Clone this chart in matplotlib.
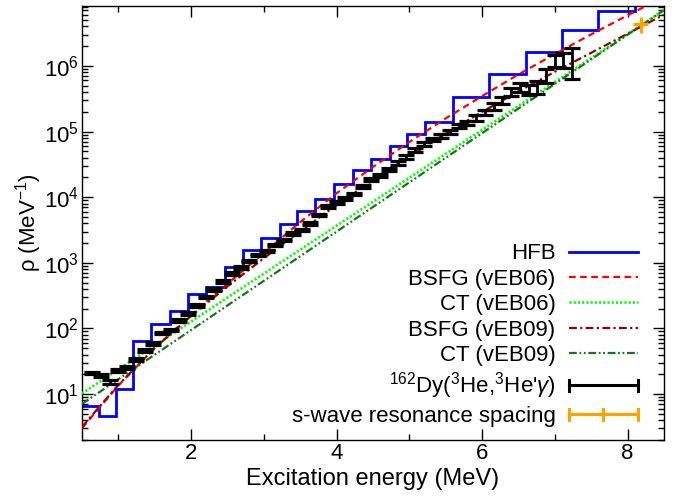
import numpy as np
import matplotlib
matplotlib.use('Agg')
import matplotlib.pyplot as plt
from matplotlib.lines import Line2D
from matplotlib.legend_handler import HandlerBase
from matplotlib.ticker import LogLocator, MultipleLocator, NullFormatter, FixedLocator

plt.rcParams['font.family'] = ['Liberation Sans', 'DejaVu Sans']
plt.rcParams['mathtext.fontset'] = 'custom'
plt.rcParams['mathtext.rm'] = 'Liberation Sans'
plt.rcParams['mathtext.it'] = 'Liberation Sans:italic'
plt.rcParams['mathtext.bf'] = 'Liberation Sans:bold'
plt.rcParams['font.size'] = 16

# ---------------- data ----------------
# HFB staircase (bin edges in MeV, level density per bin)
hfb_edges = [0.5, 0.73, 0.97, 1.2, 1.45, 1.71, 1.96, 2.2, 2.47, 2.71, 2.96, 3.22,
             3.45, 3.7, 3.96, 4.22, 4.48, 4.73, 4.97, 5.22, 5.6, 6.1, 6.6, 7.1,
             7.6, 8.1, 8.6]
hfb_rho = [6.64, 4.62, 11.9, 64.7, 118, 183, 339, 430, 865, 1549, 2393, 3873,
           6095, 9462, 15700, 25640, 38640, 60120, 92900, 138000, 331100, 741300,
           1.622e6, 3.467e6, 6.918e6, 1.413e7]

# model curves
e_model = [0.5, 1.0, 1.5, 2.0, 2.5, 3.0, 3.5, 4.0, 4.5, 5.0, 5.5, 6.0, 6.5, 7.0,
           7.5, 8.0, 8.5]
bsfg_veb06 = [3.02, 13.5, 50.1, 162, 479, 1413, 4169, 11480, 28840, 69180, 158500,
              346700, 741300, 1.514e6, 3.02e6, 5.89e6, 1.122e7]
ct_veb06 = [10.2, 23.7, 55.0, 127, 295, 684, 1585, 3673, 8511, 19720, 45710,
            105900, 245500, 568900, 1.318e6, 3.055e6, 7.08e6]
bsfg_veb09 = [3.16, 13.8, 50.1, 155, 437, 1175, 3020, 7586, 18200, 41690, 93330,
              199500, 407400, 812800, 1.585e6, 3.09e6, 6.03e6]
ct_veb09 = [7.08, 16.8, 39.8, 94.4, 224, 531, 1259, 2985, 7079, 16790, 39810,
            94410, 223900, 530900, 1.259e6, 2.985e6, 7.08e6]

# 162Dy(3He,3He'g) experimental level density
e_exp = [0.64, 0.76, 0.88, 1.00, 1.12, 1.24, 1.36, 1.48, 1.60, 1.72, 1.84, 1.96,
         2.08, 2.20, 2.32, 2.44, 2.56, 2.68, 2.80, 2.92, 3.04, 3.16, 3.28, 3.40,
         3.52, 3.64, 3.76, 3.88, 4.00, 4.12, 4.24, 4.36, 4.48, 4.60, 4.72, 4.84,
         4.96, 5.08, 5.20, 5.32, 5.44, 5.56, 5.68, 5.80, 5.92, 6.04, 6.16, 6.28,
         6.40, 6.52, 6.64, 6.76, 6.88, 7.00, 7.12, 7.24]
rho_exp = [20.9, 19.1, 15.5, 22.9, 25.7, 33.9, 45.7, 58.9, 85.1, 94.4, 132, 170,
           224, 302, 389, 519, 692, 851, 1072, 1318, 1514, 1862, 2239, 2818, 3162,
           3981, 5370, 7244, 8318, 9550, 11220, 14450, 18620, 21380, 26300, 33110,
           40740, 52480, 64570, 75860, 85110, 100000, 120200, 134900, 162200,
           195000, 239900, 302000, 398100, 478600, 436500, 478600, 724400,
           1202000, 1259000, 1245000]
rho_exp_err = [0.98, 0.9, 1.1, 1.1, 1.2, 1.6, 2.1, 2.8, 4.0, 4.4, 6.2, 8.0, 10.5,
               14, 18, 24, 32, 40, 50, 62, 71, 88, 105, 132, 149, 187, 252, 340,
               390, 450, 530, 680, 875, 1000, 1240, 1990, 2440, 3150, 3870, 5300,
               5960, 7000, 8400, 9440, 15400, 18500, 28800, 36200, 55700, 76600,
               78600, 110000, 181000, 240000, 340000, 615000]

# s-wave resonance spacing point
e_sn = [8.18]
e_sn_err = [0.10]
rho_sn = [4.4e6]
rho_sn_err = [1.2e6]

labels = ['HFB', 'BSFG (vEB06)', 'CT (vEB06)', 'BSFG (vEB09)', 'CT (vEB09)',
          "$^{162}$Dy($^{3}$He,$^{3}$He'$\\gamma$)", 's-wave resonance spacing']

y_major = [1e1, 1e2, 1e3, 1e4, 1e5, 1e6]

# ---------------- styles ----------------
c_hfb = '#0000ff'
c_b06 = '#ff0000'
c_c06 = '#00ff00'
c_b09 = '#990000'
c_c09 = '#117711'
c_exp = '#000000'
c_sn = '#ffa200'

ls_b06 = (0, (3, 2))
ls_c06 = (0, (0.8, 0.8))
ls_b09 = (0, (3.5, 1.5, 1.0, 1.5))
ls_c09 = (0, (3.5, 1.2, 0.8, 1.2, 0.8, 1.2))

fig = plt.figure(figsize=(6.83, 4.96), dpi=100)
ax = fig.add_axes([0.120, 0.113, 0.852, 0.875])

ax.stairs(hfb_rho, hfb_edges, color=c_hfb, lw=2.0, baseline=None, zorder=2)
ax.plot(e_model, bsfg_veb06, color=c_b06, lw=1.6, ls=ls_b06, zorder=3)
ax.plot(e_model, ct_veb06, color=c_c06, lw=1.9, ls=ls_c06, zorder=3)
ax.plot(e_model, bsfg_veb09, color=c_b09, lw=1.6, ls=ls_b09, zorder=3)
ax.plot(e_model, ct_veb09, color=c_c09, lw=1.6, ls=ls_c09, zorder=3)
ax.errorbar(e_exp, rho_exp, yerr=rho_exp_err, fmt='none', ecolor=c_exp,
            elinewidth=2.0, capsize=5.5, capthick=2.3, zorder=5)
ax.errorbar(e_sn, rho_sn, xerr=e_sn_err, yerr=rho_sn_err, fmt='none',
            ecolor=c_sn, elinewidth=2.3, capsize=0, zorder=6)

ax.set_yscale('log')
ax.set_xlim(0.5, 8.5)
ax.set_ylim(2.0, 8.2e6)
ax.xaxis.set_major_locator(MultipleLocator(2))
ax.xaxis.set_minor_locator(MultipleLocator(1))
ax.yaxis.set_major_locator(FixedLocator(y_major))
ax.yaxis.set_minor_locator(LogLocator(base=10, subs=np.arange(2, 10), numticks=20))
ax.yaxis.set_minor_formatter(NullFormatter())
ax.tick_params(which='both', direction='in', top=True, right=True, width=1.0)
ax.tick_params(which='major', length=8)
ax.tick_params(which='minor', length=4)
ax.tick_params(axis='y', which='major', pad=2)
ax.tick_params(axis='x', which='major', pad=2)
for s in ax.spines.values():
    s.set_linewidth(1.0)

ax.set_xlabel('Excitation energy (MeV)', labelpad=3, fontsize=17)
ax.set_ylabel('ρ (MeV$^{-1}$)', labelpad=0)


class CapHandler(HandlerBase):
    def __init__(self, color, fracs, lw=2.2, cap=0.7):
        super().__init__()
        self.color = color
        self.fracs = fracs
        self.lw = lw
        self.cap = cap

    def create_artists(self, legend, orig_handle, xdescent, ydescent, width,
                       height, fontsize, trans):
        y = height / 2 - ydescent
        x0 = -xdescent
        arts = [Line2D([x0, x0 + width], [y, y], color=self.color, lw=self.lw,
                       transform=trans)]
        h = self.cap * height
        for f in self.fracs:
            xx = x0 + f * width
            arts.append(Line2D([xx, xx], [y - h / 2, y + h / 2], color=self.color,
                               lw=self.lw, transform=trans))
        return arts


h_hfb = Line2D([], [], color=c_hfb, lw=2.0)
h_b06 = Line2D([], [], color=c_b06, lw=1.6, ls=ls_b06)
h_c06 = Line2D([], [], color=c_c06, lw=1.9, ls=ls_c06)
h_b09 = Line2D([], [], color=c_b09, lw=1.6, ls=ls_b09)
h_c09 = Line2D([], [], color=c_c09, lw=1.6, ls=ls_c09)
h_exp = Line2D([], [], color=c_exp)
h_sn = Line2D([], [], color=c_sn)

ax.legend([h_hfb, h_b06, h_c06, h_b09, h_c09, h_exp, h_sn], labels,
          loc='lower right', bbox_to_anchor=(0.955, 0.03), frameon=False,
          markerfirst=False, handlelength=3.1, handletextpad=0.6,
          labelspacing=0.2, borderpad=0, borderaxespad=0, fontsize=16,
          handler_map={h_exp: CapHandler(c_exp, [0, 1]),
                       h_sn: CapHandler(c_sn, [0, 0.5, 1])})

fig.savefig('out.png', dpi=100)
